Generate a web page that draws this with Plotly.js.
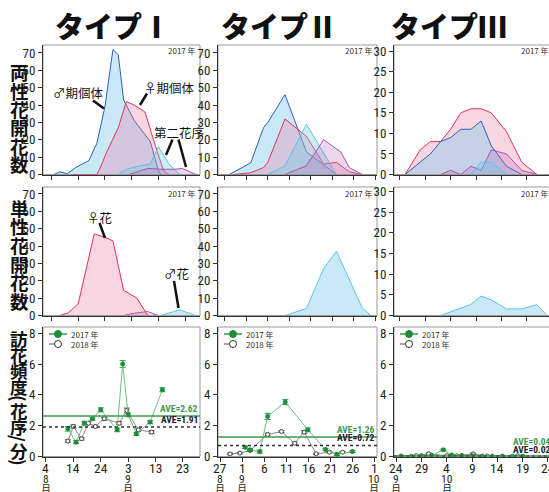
<!DOCTYPE html>
<html><head><meta charset="utf-8">
<script src="https://cdn.plot.ly/plotly-3.0.1.min.js"></script>
<style>html,body{margin:0;padding:0;overflow:hidden;background:#fff}#chart{width:556px;height:492px}</style>
</head><body><div id="chart"></div>
<script>
// ---------------- DATA ----------------
const panelTitles = ['タイプⅠ','タイプⅡ','タイプⅢ'];
const rowTitles = ['両性花開花数','単性花開花数','訪花頻度(花序/分)'];

// x ticks per column
const tickDates1 = ['2017-08-04','2017-08-14','2017-08-24','2017-09-03','2017-09-13','2017-09-23'];
const tickLabels1 = ['4','14','24','3','13','23'];
const tickDates2 = ['2017-08-27','2017-09-01','2017-09-06','2017-09-11','2017-09-16','2017-09-21','2017-09-26','2017-10-01'];
const tickLabels2 = ['27','1','6','11','16','21','26','1'];
const tickDates3 = ['2017-09-24','2017-09-29','2017-10-04','2017-10-09','2017-10-14','2017-10-19','2017-10-24'];
const tickLabels3 = ['24','29','4','9','14','19','24'];
const monthDates1 = ['2017-08-04','2017-09-03'];  const monthLabels1 = ['8','9'];
const monthDates2 = ['2017-08-27','2017-09-01','2017-10-01']; const monthLabels2 = ['8','9','10'];
const monthDates3 = ['2017-09-24','2017-10-04']; const monthLabels3 = ['9','10'];

// Row 1: bisexual flowers (両性花開花数)
const t1MaleX = ['2017-08-05','2017-08-07','2017-08-10','2017-08-13','2017-08-18','2017-08-21','2017-08-24','2017-08-27','2017-08-29','2017-08-31','2017-09-04','2017-09-10','2017-09-13','2017-09-14'];
const t1MaleY = [0,1.5,0.5,4,8,18,39,72,69,43,31,19,2,0];
const t1FemaleX = ['2017-08-12','2017-08-21','2017-08-22','2017-08-25','2017-08-29','2017-09-01','2017-09-04','2017-09-08','2017-09-12','2017-09-15','2017-09-17'];
const t1FemaleY = [0,0,3,14,27,42,40,36,16,2,0];
const t1Sec1X = ['2017-08-29','2017-09-01','2017-09-06','2017-09-10','2017-09-13','2017-09-17','2017-09-19','2017-09-21'];
const t1Sec1Y = [0,3,5,6,16,6,3,0];
const t1Sec2X = ['2017-09-02','2017-09-09','2017-09-14','2017-09-19','2017-09-22','2017-09-27'];
const t1Sec2Y = [0,3.5,3,3,3.5,0];

const t2MaleX = ['2017-08-28','2017-09-02','2017-09-05','2017-09-06','2017-09-10','2017-09-15','2017-09-22'];
const t2MaleY = [0,6.7,27,30,46,13,0];
const t2FemaleX = ['2017-08-29','2017-09-02','2017-09-05','2017-09-06','2017-09-10','2017-09-15','2017-09-19','2017-09-22','2017-09-25','2017-09-28'];
const t2FemaleY = [0,1,4,7,32,22,6,7,1.5,0];
const t2Sec1X = ['2017-09-06','2017-09-10','2017-09-15','2017-09-22'];
const t2Sec1Y = [0,5,29,0];
const t2Sec2X = ['2017-09-10','2017-09-15','2017-09-19','2017-09-23','2017-09-25','2017-09-28'];
const t2Sec2Y = [0,5,20,13,4,0];

const t3FemaleX = ['2017-09-25','2017-09-28','2017-09-30','2017-10-02','2017-10-04','2017-10-06','2017-10-08','2017-10-10','2017-10-12','2017-10-15','2017-10-18','2017-10-21'];
const t3FemaleY = [0,6,8,8,11,15,16,16,15,10.4,3,0];
const t3MaleX = ['2017-09-25','2017-09-30','2017-10-02','2017-10-04','2017-10-06','2017-10-08','2017-10-10','2017-10-12','2017-10-15','2017-10-18'];
const t3MaleY = [0,5,8,9,11,11,13,7,2,0];
const t3Sec2X = ['2017-10-02','2017-10-04','2017-10-06','2017-10-08','2017-10-10','2017-10-12','2017-10-15','2017-10-18','2017-10-21'];
const t3Sec2Y = [0,1,0,2,1,6,5,1,0];
const t3Sec1X = ['2017-10-08','2017-10-10','2017-10-12','2017-10-15'];
const t3Sec1Y = [0,3,3,0];

// Row 2: unisexual flowers (単性花開花数)
const u1FemaleX = ['2017-08-07','2017-08-10','2017-08-14','2017-08-20','2017-08-24','2017-08-27','2017-08-31','2017-09-05','2017-09-09'];
const u1FemaleY = [0,1.3,6.7,47,45,43,14.5,10,0];
const u1PurpleX = ['2017-08-31','2017-09-04','2017-09-09','2017-09-13'];
const u1PurpleY = [0,1.3,2.3,0];
const u1MaleX = ['2017-09-14','2017-09-21','2017-09-27'];
const u1MaleY = [0,3.3,0];
const u2MaleX = ['2017-09-10','2017-09-15','2017-09-19','2017-09-22','2017-09-28','2017-09-30'];
const u2MaleY = [0,4,27,37,4.4,0];
const u3MaleX = ['2017-10-02','2017-10-08','2017-10-10','2017-10-12','2017-10-15','2017-10-18','2017-10-21','2017-10-23'];
const u3MaleY = [0,2.7,4.7,3.8,1.6,1.6,2.6,0];

// Row 3: visitation frequency (訪花頻度)
const v1x17 = ['2017-08-12','2017-08-15','2017-08-18','2017-08-21','2017-08-24','2017-08-30','2017-09-01','2017-09-03','2017-09-06','2017-09-11','2017-09-15 12:00'];
const v1y17 = [1.8,0.93,2.16,2.45,3.03,1.73,6.0,2.7,1.47,2.23,4.33];
const v1e17 = [0.15,0.1,0.12,0.1,0.13,0.12,0.22,0.12,0.1,0.1,0.13];
const v1x18 = ['2017-08-12','2017-08-14','2017-08-17','2017-08-19 12:00','2017-08-22','2017-08-25 06:00','2017-08-30 16:00','2017-09-02 12:00','2017-09-06 16:00','2017-09-11 14:00'];
const v1y18 = [1.0,1.95,1.15,2.16,1.95,2.45,2.16,2.99,1.73,1.58];
const v1e18 = [0.08,0.1,0.08,0.1,0.08,0.1,0.1,0.15,0.1,0.1];

const v2x17 = ['2017-09-01 17:00','2017-09-02 19:00','2017-09-05','2017-09-06 19:00','2017-09-10 19:00','2017-09-15 22:00','2017-09-19 22:00','2017-09-22 12:00','2017-09-26'];
const v2y17 = [0.6,0.43,0.32,2.6,3.53,1.73,0.45,0.13,0.32];
const v2e17 = [0.08,0.08,0.1,0.2,0.16,0.12,0.08,0.06,0.06];
const v2x18 = ['2017-08-29 07:00','2017-08-31 12:00','2017-09-02 19:00','2017-09-06 19:00','2017-09-09 22:00','2017-09-12 22:00','2017-09-15 02:00','2017-09-17 19:00','2017-09-20 19:00','2017-09-23 19:00'];
const v2y18 = [0.17,0.22,0.39,1.43,1.62,0.86,1.58,0.17,0.28,0.28];
const v2e18 = [0.05,0.05,0.06,0.08,0.06,0.08,0.1,0.04,0.05,0.05];

const v3x17 = ['2017-09-25','2017-09-27','2017-09-29','2017-10-01','2017-10-03 08:00','2017-10-05','2017-10-07','2017-10-09','2017-10-11','2017-10-13','2017-10-15','2017-10-17','2017-10-19'];
const v3y17 = [0.02,0.02,0.05,0.08,0.43,0.1,0.07,0.05,0.03,0.02,0.02,0.02,0.03];
const v3e17 = [0.03,0.03,0.03,0.03,0.05,0.03,0.03,0.03,0.03,0.03,0.03,0.03,0.03];
const v3x18 = ['2017-09-25','2017-09-28','2017-09-30 10:00','2017-10-04','2017-10-06','2017-10-09 05:00','2017-10-12','2017-10-15','2017-10-18'];
const v3y18 = [0.02,0.05,0.18,0.05,0.05,0.17,0.03,0.02,0.05];
const v3e18 = [0.02,0.03,0.05,0.03,0.03,0.05,0.02,0.02,0.03];

const ave2017 = [2.62, 1.26, 0.04];
const ave2018 = [1.91, 0.72, 0.02];
const aveLabel2017 = ['AVE=2.62','AVE=1.26','AVE=0.04'];
const aveLabel2018 = ['AVE=1.91','AVE=0.72','AVE=0.02'];
const yearLabels = ['2017 年','2018 年'];

// ---------------- LAYOUT HELPERS ----------------
const W = 556, H = 492;
const px = x => x / W, py = y => 1 - y / H;
const colPx = [[43,200],[218,377],[394,553]];
const rowPx = [[45,174.5],[187,315.5],[327,456.5]];
const JP = '"Noto Sans CJK JP", "Noto Sans", sans-serif';
const NUM = '"Liberation Sans Narrow", "Roboto Condensed", "Open Sans Condensed", "DejaVu Sans Condensed", "Noto Sans", sans-serif';
const INK = '#231f20';
const sfx = (r,c) => { const k = r*3 + c + 1; return k === 1 ? '' : String(k); };

const xRangeTop = [['2017-07-31 20:00','2017-09-28 14:00'],['2017-08-25 09:00','2017-10-01 11:00'],['2017-09-22 20:00','2017-10-24 04:00']];
const xRangeBot = [['2017-08-02 22:30','2017-09-29 05:00'],['2017-08-26 13:00','2017-10-01 14:00'],['2017-09-23 14:00','2017-10-25 00:00']];
const yRanges = [[[0,74.6],[0,74.6],[0,31.5]],[[0,74],[0,74],[0,31.1]],[[0,8.4],[0,8.4],[0,8.4]]];
const yDticks = [[10,10,5],[10,10,5],[2,2,2]];
const tickDates = [tickDates1, tickDates2, tickDates3];
const tickLabels = [tickLabels1, tickLabels2, tickLabels3];
const monthDates = [monthDates1, monthDates2, monthDates3];
const monthLabels = [monthLabels1, monthLabels2, monthLabels3];

const layout = {
  width: W, height: H, margin: {l:0,r:0,t:0,b:0},
  paper_bgcolor: '#fff', plot_bgcolor: 'rgba(0,0,0,0)',
  showlegend: false, shapes: [], annotations: [],
  font: {family: JP, color: INK}
};

for (let r = 0; r < 3; r++) for (let c = 0; c < 3; c++) {
  const s = sfx(r,c);
  layout['xaxis' + s] = {
    domain: [px(colPx[c][0]), px(colPx[c][1])], anchor: 'y' + s, type: 'date',
    range: r < 2 ? xRangeTop[c] : xRangeBot[c],
    tickmode: 'array', tickvals: tickDates[c], ticktext: tickLabels[c],
    showticklabels: false, ticks: 'outside', ticklen: 4, tickwidth: 1, tickcolor: '#333',
    showline: true, linecolor: '#333', linewidth: 1, showgrid: false, zeroline: false,
    fixedrange: true
  };
  layout['yaxis' + s] = {
    domain: [py(rowPx[r][1]), py(rowPx[r][0])], anchor: 'x' + s,
    range: yRanges[r][c], tick0: 0, dtick: yDticks[r][c],
    ticks: 'outside', ticklen: 4, tickwidth: 1, tickcolor: '#333',
    showline: true, linecolor: '#333', linewidth: 1, showgrid: false, zeroline: false,
    tickfont: {family: NUM, size: 13, color: INK}, fixedrange: true
  };
  layout.shapes.push({type:'rect', xref:'paper', yref:'paper', layer:'below',
    x0: px(colPx[c][0]), x1: px(colPx[c][1]), y0: py(rowPx[r][1]), y1: py(rowPx[r][0]),
    line: {color:'#9a9a9a', width:1}});
  if (r < 2) {
    layout.annotations.push({xref:'paper', yref:'paper', x: px(colPx[c][1]-2), y: py(rowPx[r][0]+6),
      xanchor:'right', yanchor:'middle', showarrow:false, text: yearLabels[0],
      font:{family: JP, size: 8, color:'#333'}});
  }
}

// panel titles
const titleX = [113, 279, 449];
panelTitles.forEach((t,i) => layout.annotations.push({xref:'paper', yref:'paper', x: px(titleX[i]), y: py(25),
  xanchor:'center', yanchor:'middle', showarrow:false, text: t,
  font:{family: JP, size: 29, color:'#111', weight: 900}}));

// vertical row titles, one glyph per annotation
const rowTitleStart = [63, 198.5, 330];
const rowTitleStep = [18.4, 18.6, 16];
const rowTitleSize = [18.5, 18.5, 17.5];
rowTitles.forEach((t, r) => {
  let cur = rowTitleStart[r];
  for (const ch of t) {
    const rot = '(/)'.includes(ch);
    const h = rot ? 8 : rowTitleStep[r];
    layout.annotations.push({xref:'paper', yref:'paper', x: px(19), y: py(cur + h/2),
      xanchor:'center', yanchor:'middle', showarrow:false, text: ch, textangle: rot ? 90 : 0,
      font:{family: JP, size: rowTitleSize[r], color:'#111', weight: 700}});
    cur += h;
  }
});

// bottom-row date labels (day, month digit, 月) stacked tightly
for (let c = 0; c < 3; c++) {
  const s = sfx(2,c);
  tickDates[c].forEach((d,i) => {
    layout.annotations.push({xref:'x'+s, yref:'paper', x: d, y: py(467.5), xanchor:'center', yanchor:'middle',
      showarrow:false, text: tickLabels[c][i], font:{family: NUM, size: 13.5, color: INK}});
  });
  monthDates[c].forEach((d,i) => {
    layout.annotations.push({xref:'x'+s, yref:'paper', x: d, y: py(478.5), xanchor:'center', yanchor:'middle',
      showarrow:false, text: monthLabels[c][i], font:{family: NUM, size: 11.5, color: INK}});
    layout.annotations.push({xref:'x'+s, yref:'paper', x: d, y: py(488), xanchor:'center', yanchor:'middle',
      showarrow:false, text: '月', font:{family: JP, size: 10, color: INK}});
  });
}

// callout labels with leader lines
function callout(text, cx, cy, lines) {
  layout.annotations.push({xref:'paper', yref:'paper', x: px(cx), y: py(cy), xanchor:'center', yanchor:'middle',
    showarrow:false, text: text, font:{family: JP, size: 12.5, color:'#111'}});
  lines.forEach(l => layout.shapes.push({type:'line', xref:'paper', yref:'paper',
    x0: px(l[0]), y0: py(l[1]), x1: px(l[2]), y1: py(l[3]), line:{color:'#111', width:2.5}}));
}
callout('♂期個体', 78, 92.5, [[93,100.5,104,108.5]]);
callout('♀期個体', 169, 88, [[147,93.5,140,105]]);
callout('第二花序', 179, 132, [[172.5,139.5,166,155],[178.5,139.5,186,167]]);
callout('♀花', 99, 217, [[99.5,223,105,238]]);
callout('♂花', 176, 273.5, [[174,281,178.5,308]]);

// ---------------- TRACES ----------------
const ST = {
  male:   {line:'#2d5fb4', fill:'rgba(120,200,240,0.40)'},
  female: {line:'#e8324f', fill:'rgba(240,120,160,0.30)'},
  sec1:   {line:'#5cc4e0', fill:'rgba(110,200,230,0.35)'},
  sec2:   {line:'#a855a8', fill:'rgba(190,120,190,0.30)'},
  uMale:  {line:'#5cc4e0', fill:'rgba(120,200,240,0.40)'}
};
const traces = [];
function area(x, y, st, r, c) {
  const s = sfx(r,c);
  traces.push({type:'scatter', mode:'lines', x: x, y: y, xaxis:'x'+s, yaxis:'y'+s,
    fill:'tozeroy', fillcolor: st.fill, line:{color: st.line, width:1}, hoverinfo:'skip'});
}
area(t1MaleX, t1MaleY, ST.male, 0, 0);
area(t1FemaleX, t1FemaleY, ST.female, 0, 0);
area(t1Sec1X, t1Sec1Y, ST.sec1, 0, 0);
area(t1Sec2X, t1Sec2Y, ST.sec2, 0, 0);
area(t2MaleX, t2MaleY, ST.male, 0, 1);
area(t2FemaleX, t2FemaleY, ST.female, 0, 1);
area(t2Sec1X, t2Sec1Y, ST.sec1, 0, 1);
area(t2Sec2X, t2Sec2Y, ST.sec2, 0, 1);
area(t3FemaleX, t3FemaleY, ST.female, 0, 2);
area(t3MaleX, t3MaleY, ST.male, 0, 2);
area(t3Sec2X, t3Sec2Y, ST.sec2, 0, 2);
area(t3Sec1X, t3Sec1Y, ST.sec1, 0, 2);
area(u1FemaleX, u1FemaleY, ST.female, 1, 0);
area(u1PurpleX, u1PurpleY, ST.sec2, 1, 0);
area(u1MaleX, u1MaleY, ST.uMale, 1, 0);
area(u2MaleX, u2MaleY, ST.uMale, 1, 1);
area(u3MaleX, u3MaleY, ST.uMale, 1, 2);

const G = {line:'#6dbf7d', mark:'#1e8c3a', err:'#2f9a48', ave:'#3a9a4f'};
const K = {line:'#8a8a8a', mark:'#444', err:'#555', ave:'#333'};
function visit(x, y, e, c, is17) {
  const s = sfx(2,c), P = is17 ? G : K;
  traces.push({type:'scatter', mode:'lines+markers', x: x, y: y, xaxis:'x'+s, yaxis:'y'+s,
    line:{color: P.line, width:1},
    marker:{size: 4, color: is17 ? P.mark : '#fff', symbol: 'circle', line:{color: P.mark, width: 1}},
    error_y:{type:'data', array: e, visible:true, color: P.err, thickness:1, width:3},
    hoverinfo:'skip'});
}
const vData = [[v1x17,v1y17,v1e17,v1x18,v1y18,v1e18],[v2x17,v2y17,v2e17,v2x18,v2y18,v2e18],[v3x17,v3y17,v3e17,v3x18,v3y18,v3e18]];
const aveShift17 = [1, 1, 8], aveShift18 = [1, 1, 0];
for (let c = 0; c < 3; c++) {
  const d = vData[c], s = sfx(2,c);
  visit(d[3], d[4], d[5], c, false);
  visit(d[0], d[1], d[2], c, true);
  const L = colPx[c][0], R = colPx[c][1];
  layout.shapes.push({type:'line', xref:'paper', yref:'y'+s, x0: px(L), x1: px(R), y0: ave2017[c], y1: ave2017[c], line:{color: G.ave, width:1.5}});
  layout.shapes.push({type:'line', xref:'paper', yref:'y'+s, x0: px(L), x1: px(R), y0: ave2018[c], y1: ave2018[c], line:{color: K.ave, width:1.5, dash:'dot'}});
  layout.annotations.push({xref:'paper', yref:'y'+s, x: px(R-1), y: ave2017[c], xanchor:'right', yanchor:'bottom', yshift: aveShift17[c],
    showarrow:false, text: aveLabel2017[c], borderpad:0, font:{family: NUM, size: 9.5, color: G.ave, weight:700}});
  layout.annotations.push({xref:'paper', yref:'y'+s, x: px(R-1), y: ave2018[c], xanchor:'right', yanchor:'bottom', yshift: aveShift18[c],
    showarrow:false, text: aveLabel2018[c], borderpad:0, font:{family: NUM, size: 9.5, color: '#222', weight:700}});
  // legend
  const y1 = 334, y2 = 344;
  layout.shapes.push({type:'line', xref:'paper', yref:'paper', x0: px(L+6), x1: px(L+24), y0: py(y1), y1: py(y1), line:{color: G.ave, width:1.5}});
  layout.shapes.push({type:'circle', xref:'paper', yref:'paper', x0: px(L+15-3.5), x1: px(L+15+3.5), y0: py(y1+3.5), y1: py(y1-3.5), fillcolor: G.mark, line:{color: G.mark, width:1}});
  layout.shapes.push({type:'line', xref:'paper', yref:'paper', x0: px(L+6), x1: px(L+24), y0: py(y2), y1: py(y2), line:{color:'#555', width:1, dash:'dash'}});
  layout.shapes.push({type:'circle', xref:'paper', yref:'paper', x0: px(L+15-3.5), x1: px(L+15+3.5), y0: py(y2+3.5), y1: py(y2-3.5), fillcolor:'#fff', line:{color:'#333', width:1}});
  layout.annotations.push({xref:'paper', yref:'paper', x: px(L+26), y: py(y1), xanchor:'left', yanchor:'middle', showarrow:false, text: yearLabels[0], font:{family: JP, size: 8, color:'#333'}});
  layout.annotations.push({xref:'paper', yref:'paper', x: px(L+26), y: py(y2), xanchor:'left', yanchor:'middle', showarrow:false, text: yearLabels[1], font:{family: JP, size: 8, color:'#333'}});
}

Plotly.newPlot('chart', traces, layout, {staticPlot: true, displayModeBar: false});
</script></body></html>
